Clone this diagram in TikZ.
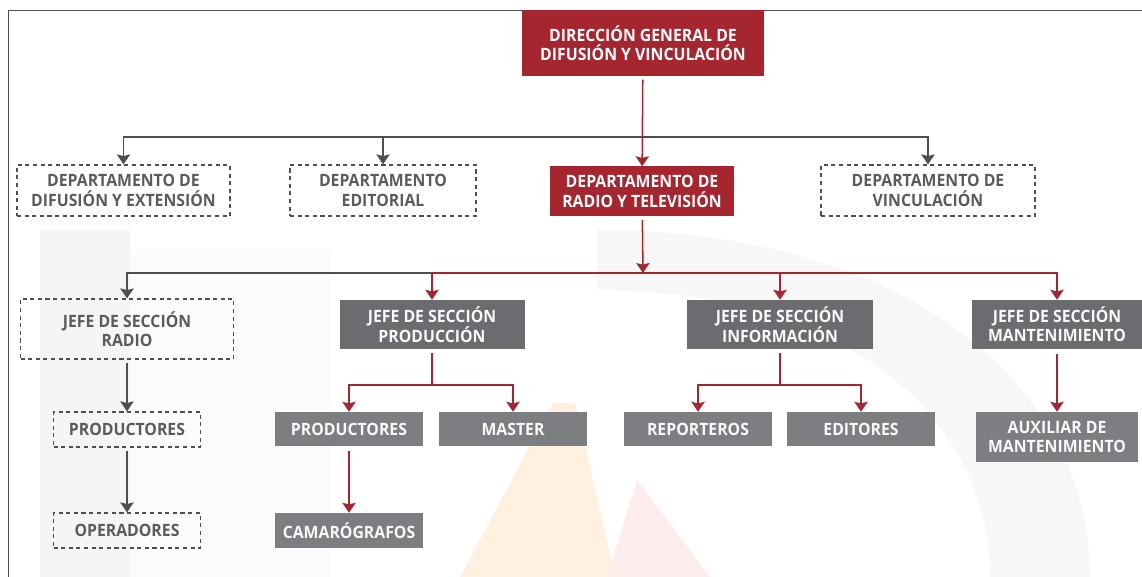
\documentclass[tikz,border=0pt]{standalone}
\usepackage{fontspec}
\setmainfont{Open Sans}[FakeStretch=0.93]
\usetikzlibrary{arrows.meta}

\definecolor{uaared}{HTML}{A6262F}
\definecolor{jefegray}{HTML}{6B6C6F}
\definecolor{staffgray}{HTML}{7D7E81}
\definecolor{deptext}{HTML}{5A5B5D}
\definecolor{linkgray}{HTML}{4F4F51}

\tikzset{
  boxsize/.style 2 args={minimum width=#1*0.3mm, minimum height=#2*0.3mm, inner sep=0pt},
  base/.style={font=\fontsize{14.5}{16.5}\selectfont\bfseries, align=center},
  dirbox/.style={base, fill=uaared, text=white},
  deptbox/.style={base, draw=linkgray, dash pattern=on 3.5pt off 3pt, line width=1pt, text=deptext},
  jefebox/.style={base, fill=jefegray, text=white!95!gray},
  staffbox/.style={base, fill=staffgray, text=white!95!gray},
  tip/.style={-{Stealth[inset=0.5mm,width=4mm,length=3mm]}},
  graylink/.style={draw=linkgray, line width=1.3pt},
  redlink/.style={draw=uaared, line width=1.3pt},
}

\begin{document}
\begin{tikzpicture}[x=0.3mm,y=-0.3mm]
    \useasboundingbox (0,0) rectangle (1142,577);
    % faint watermark behind the chart
    \fill[gray!8] (40,230)--(130,230)--(130,577)--(40,577)--cycle;
    \fill[gray!3] (130,250)--(330,250)--(330,577)--(130,577)--cycle;
    \fill[orange!12] (553,403)--(575,403)--(615,577)--(460,577)--cycle;
    \fill[red!7] (637,480)--(710,577)--(607,577)--cycle;
    \fill[gray!6] (597,230) .. controls (900,230) and (1090,380) .. (1090,577)
        -- (990,577) .. controls (990,420) and (850,290) .. (597,290) -- cycle;
    \draw[linkgray, line width=0.8pt] (8,577)--(8,10)--(1142,10);

    % level 1 and 2
    \node[dirbox, boxsize={242}{66}] (dir) at (643,43) {DIRECCIÓN GENERAL DE\\DIFUSIÓN Y VINCULACIÓN};
    \node[deptbox, boxsize={213}{51}] (dif) at (123.5,190.5) {DEPARTAMENTO DE\\DIFUSIÓN Y EXTENSIÓN};
    \node[deptbox, boxsize={186}{51}] (edi) at (383,190.5) {DEPARTAMENTO\\EDITORIAL};
    \node[dirbox, boxsize={184}{50}] (rtv) at (642,191.5) {DEPARTAMENTO DE\\RADIO Y TELEVISIÓN};
    \node[deptbox, boxsize={214}{51}] (vin) at (928,190.5) {DEPARTAMENTO DE\\VINCULACIÓN};

    % level 3
    \node[deptbox, boxsize={213}{60}] (jradio) at (127,329) {JEFE DE SECCIÓN\\RADIO};
    \node[jefebox, boxsize={185}{49}] (jprod) at (432,324.5) {JEFE DE SECCIÓN\\PRODUCCIÓN};
    \node[jefebox, boxsize={186}{49}] (jinfo) at (780,324.5) {JEFE DE SECCIÓN\\INFORMACIÓN};
    \node[jefebox, boxsize={170}{49}] (jmant) at (1057,324.5) {JEFE DE SECCIÓN\\MANTENIMIENTO};

    % level 4 and 5
    \node[deptbox, boxsize={147}{35}] (rprod) at (127,429.5) {PRODUCTORES};
    \node[deptbox, boxsize={147}{35}] (oper) at (127,530.5) {OPERADORES};
    \node[staffbox, boxsize={148}{34}] (pprod) at (349,429) {PRODUCTORES};
    \node[staffbox, boxsize={148}{34}] (master) at (513,429) {MASTER};
    \node[staffbox, boxsize={148}{35}] (camar) at (349,530.5) {CAMARÓGRAFOS};
    \node[staffbox, boxsize={148}{34}] (repo) at (698,429) {REPORTEROS};
    \node[staffbox, boxsize={148}{34}] (edit) at (861,429) {EDITORES};
    \node[staffbox, boxsize={162}{50}] (aux) at (1057,437) {AUXILIAR DE\\MANTENIMIENTO};

    \coordinate (busA) at (643,137);
    \coordinate (busB) at (643,273);
    \coordinate (splitP) at (432,385);
    \coordinate (splitI) at (780,385);

    % connectors
    \draw[graylink,tip] (busA) -| (dif);
    \draw[graylink,tip] (busA) -| (vin);
    \draw[graylink,tip] (busA -| edi) -- (edi);
    \draw[redlink,tip,shorten <=1mm] (dir) -- (rtv);
    \draw[redlink,tip,shorten <=1mm] (rtv) -- (busB);
    \draw[graylink,tip] (busB -| jprod) -| (jradio);
    \draw[redlink,tip] (busB) -| (jprod);
    \draw[redlink,tip] (busB) -| (jmant);
    \draw[redlink,tip] (busB -| jinfo) -- (jinfo);
    \draw[graylink,tip,shorten <=1mm] (jradio) -- (rprod);
    \draw[graylink,tip,shorten <=1mm] (rprod) -- (oper);
    \draw[redlink,shorten <=1mm] (jprod) -- (splitP);
    \draw[redlink,tip] (splitP) -| (pprod);
    \draw[redlink,tip] (splitP) -| (master);
    \draw[redlink,tip,shorten <=1.5mm] (pprod) -- (camar);
    \draw[redlink,shorten <=1mm] (jinfo) -- (splitI);
    \draw[redlink,tip] (splitI) -| (repo);
    \draw[redlink,tip] (splitI) -| (edit);
    \draw[redlink,tip,shorten <=1.5mm] (jmant) -- (aux);
\end{tikzpicture}
\end{document}
